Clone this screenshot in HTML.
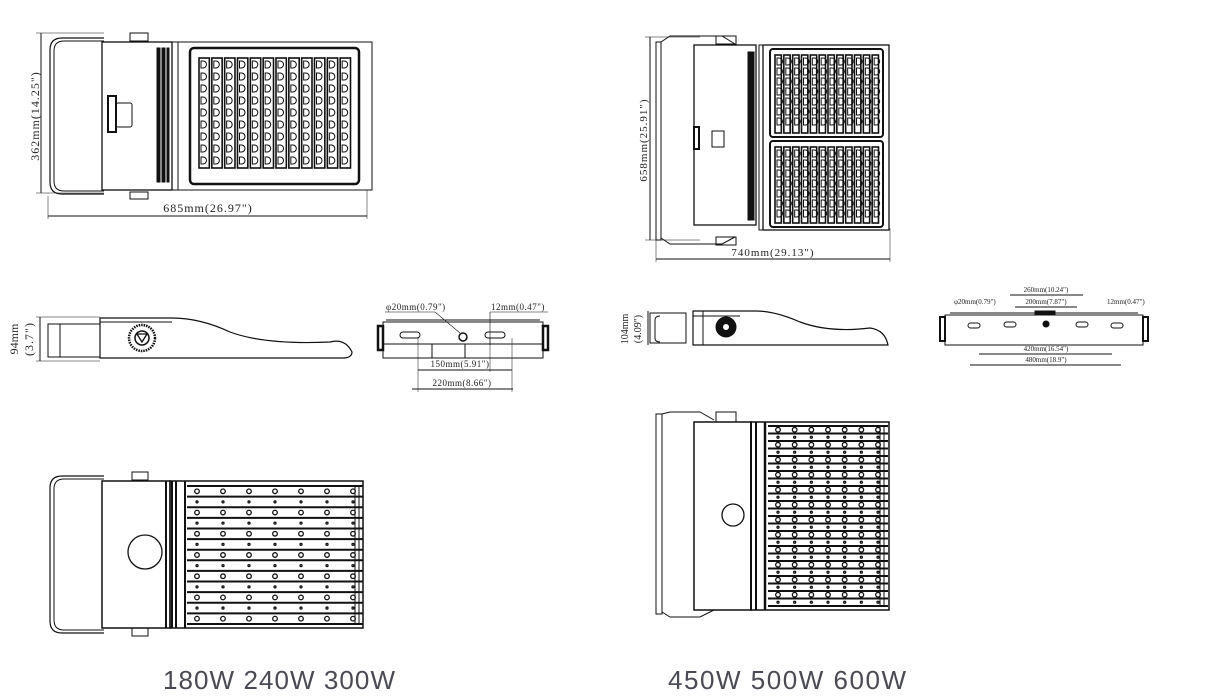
<!DOCTYPE html>
<html><head><meta charset="utf-8"><style>
html,body{margin:0;padding:0;background:#fff;width:1225px;height:696px;overflow:hidden}
svg{display:block}
text{font-family:"Liberation Serif",serif;fill:#222}
.cap{font-family:"Liberation Sans",sans-serif;fill:#4a4a55;font-size:26px}
</style></head><body>
<svg id="s" width="1225" height="696" viewBox="0 0 1225 696" xmlns="http://www.w3.org/2000/svg" fill="none" stroke="#111" stroke-width="1">
<!-- ===== TOP LEFT ===== -->
<path d="M104 38 H62 Q50 38 50 50 V182 Q50 194 62 194 H104" stroke-width="1.2"/>
<path d="M104 41 H64 Q54 41 54 51 V181 Q54 191 64 191 H104"/>
<rect x="130" y="33" width="18" height="8"/><rect x="130" y="192" width="18" height="7"/>
<rect x="102" y="42" width="70" height="148" stroke-width="1.3"/>
<rect x="108" y="96" width="8" height="36" stroke-width="2"/>
<rect x="116" y="103" width="16" height="24" rx="2"/>
<rect x="157" y="48" width="3" height="134" fill="#111"/><rect x="162" y="48" width="3" height="134" fill="#111"/><rect x="167" y="48" width="2" height="134" fill="#111"/>
<rect x="172" y="42" width="200" height="148"/>
<line x1="178" y1="42" x2="178" y2="190"/>
<rect x="190" y="48" width="169" height="136" rx="4" stroke-width="2.5"/>
<g id="finsA"></g>
<line x1="41" y1="33" x2="41" y2="193"/><line x1="36" y1="33" x2="104" y2="33" stroke-width=".5"/><line x1="36" y1="193" x2="104" y2="193" stroke-width=".5"/>
<text transform="translate(39,116) rotate(-90)" font-size="12" letter-spacing="1" text-anchor="middle" stroke="none">362mm(14.25")</text>
<line x1="48" y1="216" x2="367" y2="216"/><line x1="48" y1="196" x2="48" y2="219" stroke-width=".5"/><line x1="367" y1="190" x2="367" y2="219" stroke-width=".5"/>
<text x="208" y="212" font-size="12" letter-spacing="1" text-anchor="middle" stroke="none">685mm(26.97")</text>

<!-- ===== TOP RIGHT ===== -->
<rect x="656" y="42" width="5" height="198"/>
<path d="M661 42 L670 36 H722 L735 44 M661 238 L670 244 H722 L735 237"/>
<rect x="716" y="36" width="20" height="8"/><rect x="716" y="237" width="20" height="8"/>
<rect x="694" y="45" width="62" height="180" stroke-width="1.3"/>
<rect x="694" y="127" width="5" height="22" stroke-width="2"/>
<rect x="712" y="131" width="12" height="16"/>
<rect x="748" y="52" width="3" height="168" fill="#111"/><rect x="752" y="52" width="2" height="168" fill="#111"/>
<rect x="759" y="45" width="4" height="185"/>
<rect x="763" y="45" width="126" height="185" stroke-width="1.3"/>
<rect x="770" y="49" width="113" height="88" rx="3" stroke-width="2"/>
<rect x="770" y="141" width="113" height="86" rx="3" stroke-width="2"/>
<g id="finsB"></g>
<line x1="650" y1="37" x2="650" y2="240"/><line x1="645" y1="37" x2="700" y2="37" stroke-width=".5"/><line x1="645" y1="240" x2="700" y2="240" stroke-width=".5"/>
<text transform="translate(647,140) rotate(-90)" font-size="11" letter-spacing="1" text-anchor="middle" stroke="none">658mm(25.91")</text>
<line x1="656" y1="259" x2="890" y2="259"/><line x1="656" y1="240" x2="656" y2="262" stroke-width=".5"/><line x1="890" y1="228" x2="890" y2="262" stroke-width=".5"/>
<text x="773" y="256" font-size="11" letter-spacing="1" text-anchor="middle" stroke="none">740mm(29.13")</text>

<!-- ===== SIDE LEFT ===== -->
<rect x="48" y="324" width="52" height="33"/><line x1="60" y1="324" x2="60" y2="357"/>
<path d="M100 318 H172 Q200 318 230 332 Q265 345 330 342 Q345 338 352 352 Q352 357 345 358 H100 Z" stroke-width="1.2"/>
<line x1="100" y1="322" x2="172" y2="322"/>
<circle cx="142" cy="338" r="13" stroke-dasharray="1.5 1" stroke-width="2.5"/>
<circle cx="142" cy="338" r="7" stroke-width="1.5"/><path d="M137 334 L147 334 L142 342 Z" stroke-width="1.3"/>
<line x1="40" y1="317" x2="40" y2="361"/><line x1="36" y1="317" x2="100" y2="317" stroke-width=".5"/><line x1="36" y1="361" x2="100" y2="361" stroke-width=".5"/>
<text transform="translate(18,339) rotate(-90)" font-size="12" text-anchor="middle" stroke="none">94mm</text>
<text transform="translate(33,339) rotate(-90)" font-size="12" letter-spacing="1" text-anchor="middle" stroke="none">(3.7")</text>

<!-- ===== SIDE SMALL LEFT ===== -->
<rect x="383" y="322" width="160" height="36"/><line x1="383" y1="344" x2="543" y2="344"/>
<line x1="386" y1="320" x2="540" y2="320"/>
<rect x="378" y="326" width="5" height="24" stroke-width="2.5"/><rect x="543" y="326" width="5" height="24" stroke-width="2.5"/>
<rect x="400" y="332" width="20" height="6" rx="3"/><rect x="485" y="332" width="20" height="6" rx="3"/>
<circle cx="463" cy="337" r="4" stroke-width="1.5"/>
<line x1="432" y1="344" x2="432" y2="358"/><line x1="465" y1="344" x2="465" y2="358"/>
<path d="M385 312 H435 L460 333 M490 312 H548 M490 312 V345" stroke-width=".6"/>
<text x="386" y="310" font-size="9" letter-spacing=".5" stroke="none">φ20mm(0.79")</text>
<text x="491" y="310" font-size="9" letter-spacing=".5" stroke="none">12mm(0.47")</text>
<line x1="418" y1="370" x2="512" y2="370"/><text x="460" y="367" font-size="9" letter-spacing=".5" text-anchor="middle" stroke="none">150mm(5.91")</text>
<line x1="412" y1="389" x2="513" y2="389"/><text x="462" y="386" font-size="9" letter-spacing=".5" text-anchor="middle" stroke="none">220mm(8.66")</text>
<line x1="418" y1="338" x2="418" y2="392" stroke-width=".5"/><line x1="512" y1="338" x2="512" y2="392" stroke-width=".5"/><line x1="490" y1="338" x2="490" y2="372" stroke-width=".5"/>

<!-- ===== SIDE RIGHT ===== -->
<rect x="650" y="313" width="36" height="30"/><path d="M660 316 Q655 316 655 320 V338 Q655 342 660 342"/>
<path d="M693 311 H756 Q775 311 800 322 Q830 333 870 328 Q885 330 888 345 H693 Z" stroke-width="1.2"/>
<line x1="693" y1="316" x2="740" y2="316"/><line x1="703" y1="311" x2="703" y2="345"/>
<circle cx="726" cy="327" r="10" fill="#111"/><circle cx="726" cy="327" r="3" fill="#fff" stroke="none"/>
<line x1="648" y1="311" x2="648" y2="345"/>
<text transform="translate(628,329) rotate(-90)" font-size="10" text-anchor="middle" stroke="none">104mm</text>
<text transform="translate(641,329) rotate(-90)" font-size="10" text-anchor="middle" stroke="none">(4.09")</text>

<!-- ===== SIDE SMALL RIGHT ===== -->
<rect x="945" y="315" width="198" height="30"/><line x1="950" y1="313" x2="1138" y2="313"/>
<rect x="940" y="317" width="5" height="24" stroke-width="2"/><rect x="1143" y="317" width="5" height="24" stroke-width="2"/>
<rect x="1035" y="311" width="20" height="3" fill="#111"/>
<rect x="968" y="323" width="12" height="5" rx="2.5"/><rect x="1004" y="322" width="12" height="5" rx="2.5"/><rect x="1076" y="322" width="12" height="5" rx="2.5"/><rect x="1111" y="323" width="12" height="5" rx="2.5"/>
<circle cx="1046" cy="324" r="3" fill="#111"/>
<line x1="1010" y1="295" x2="1083" y2="295"/><text x="1046" y="292" font-size="7" text-anchor="middle" stroke="none">260mm(10.24")</text>
<line x1="1015" y1="307" x2="1077" y2="307"/><text x="1046" y="304" font-size="7" text-anchor="middle" stroke="none">200mm(7.87")</text>
<text x="954" y="304" font-size="7" stroke="none">φ20mm(0.79")</text>
<text x="1107" y="304" font-size="7" stroke="none">12mm(0.47")</text>
<line x1="979" y1="354" x2="1112" y2="354"/><text x="1046" y="351" font-size="7" text-anchor="middle" stroke="none">420mm(16.54")</text>
<line x1="970" y1="365" x2="1121" y2="365"/><text x="1046" y="362" font-size="7" text-anchor="middle" stroke="none">480mm(18.9")</text>

<!-- ===== BOTTOM LEFT ===== -->
<path d="M104 476 H62 Q50 476 50 488 V621 Q50 633 62 633 H104" stroke-width="1.2"/>
<path d="M104 479 H64 Q54 479 54 489 V620 Q54 630 64 630 H104"/>
<rect x="132" y="472" width="16" height="8"/><rect x="132" y="628" width="16" height="8"/>
<rect x="102" y="481" width="68" height="147" stroke-width="1.5"/>
<circle cx="145" cy="552" r="17" stroke-width="1.3"/>
<line x1="166" y1="481" x2="166" y2="628" stroke-width="2"/><line x1="172" y1="481" x2="172" y2="628" stroke-width="2"/><line x1="176" y1="481" x2="176" y2="628" stroke-width="2"/><line x1="185" y1="481" x2="185" y2="628" stroke-width="2"/>
<rect x="170" y="481" width="193" height="147" stroke-width="1.5"/>
<g id="finsC"></g>

<!-- ===== BOTTOM RIGHT ===== -->
<rect x="656" y="414" width="6" height="200"/>
<path d="M662 414 L670 412 H700 L714 420 M662 612 L670 617 H700 L714 610"/>
<rect x="716" y="412" width="20" height="10"/>
<rect x="694" y="422" width="57" height="188" stroke-width="1.5"/>
<circle cx="733" cy="515" r="11" stroke-width="1.3"/>
<line x1="751" y1="422" x2="751" y2="610" stroke-width="2"/><line x1="756" y1="422" x2="756" y2="610" stroke-width="2"/><line x1="765" y1="422" x2="765" y2="610" stroke-width="2.5"/>
<rect x="751" y="422" width="138" height="188" stroke-width="1.5"/>
<g id="finsD"></g>

<text class="cap" x="163" y="689" stroke="none" textLength="232">180W  240W 300W</text>
<text class="cap" x="668" y="689" stroke="none" textLength="238">450W  500W 600W</text>
</svg>
<script>
var NS="http://www.w3.org/2000/svg";
function el(g,t,a){var e=document.createElementNS(NS,t);for(var k in a)e.setAttribute(k,a[k]);g.appendChild(e);return e;}
function cols(id,x0,x1,y0,y1,n,step){var g=document.getElementById(id);var w=(x1-x0)/n;
 for(var i=0;i<n;i++){var x=x0+i*w;el(g,"rect",{x:x+1,y:y0,width:w-2.5,height:y1-y0,"stroke-width":"1.6"});
  var k=Math.floor((y1-y0)/step);for(var j=0;j<k;j++){el(g,"path",{d:"M"+(x+3)+" "+(y0+3+j*step)+" h2 a3.5 3.5 0 0 1 0 7 h-2 z","stroke-width":"1"});}}}
cols("finsA",198,352,58,168,12,12);
cols("finsB",774,880,55,133,12,10);
cols("finsB",774,880,147,223,12,10);
function rows(id,x0,x1,y0,y1,n,dots){var g=document.getElementById(id);var h=(y1-y0)/n;
 for(var i=0;i<=n;i++){var y=y0+i*h;el(g,"line",{x1:x0,y1:y,x2:x1,y2:y,"stroke-width":"2"});
  if(i<n){for(var j=0;j<dots;j++){var cx=x0+10+j*(x1-x0-20)/(dots-1);el(g,"circle",{cx:cx,cy:y+h/2,r:(i%2?1:2.3),"stroke-width":"1.3"});}}}
 el(g,"line",{x1:x1-8,y1:y0,x2:x1-8,y2:y1});el(g,"line",{x1:x1-4,y1:y0,x2:x1-4,y2:y1});}
rows("finsC",187,363,486,624,13,7);
rows("finsD",768,888,426,606,24,7);
</script>
</body></html>
